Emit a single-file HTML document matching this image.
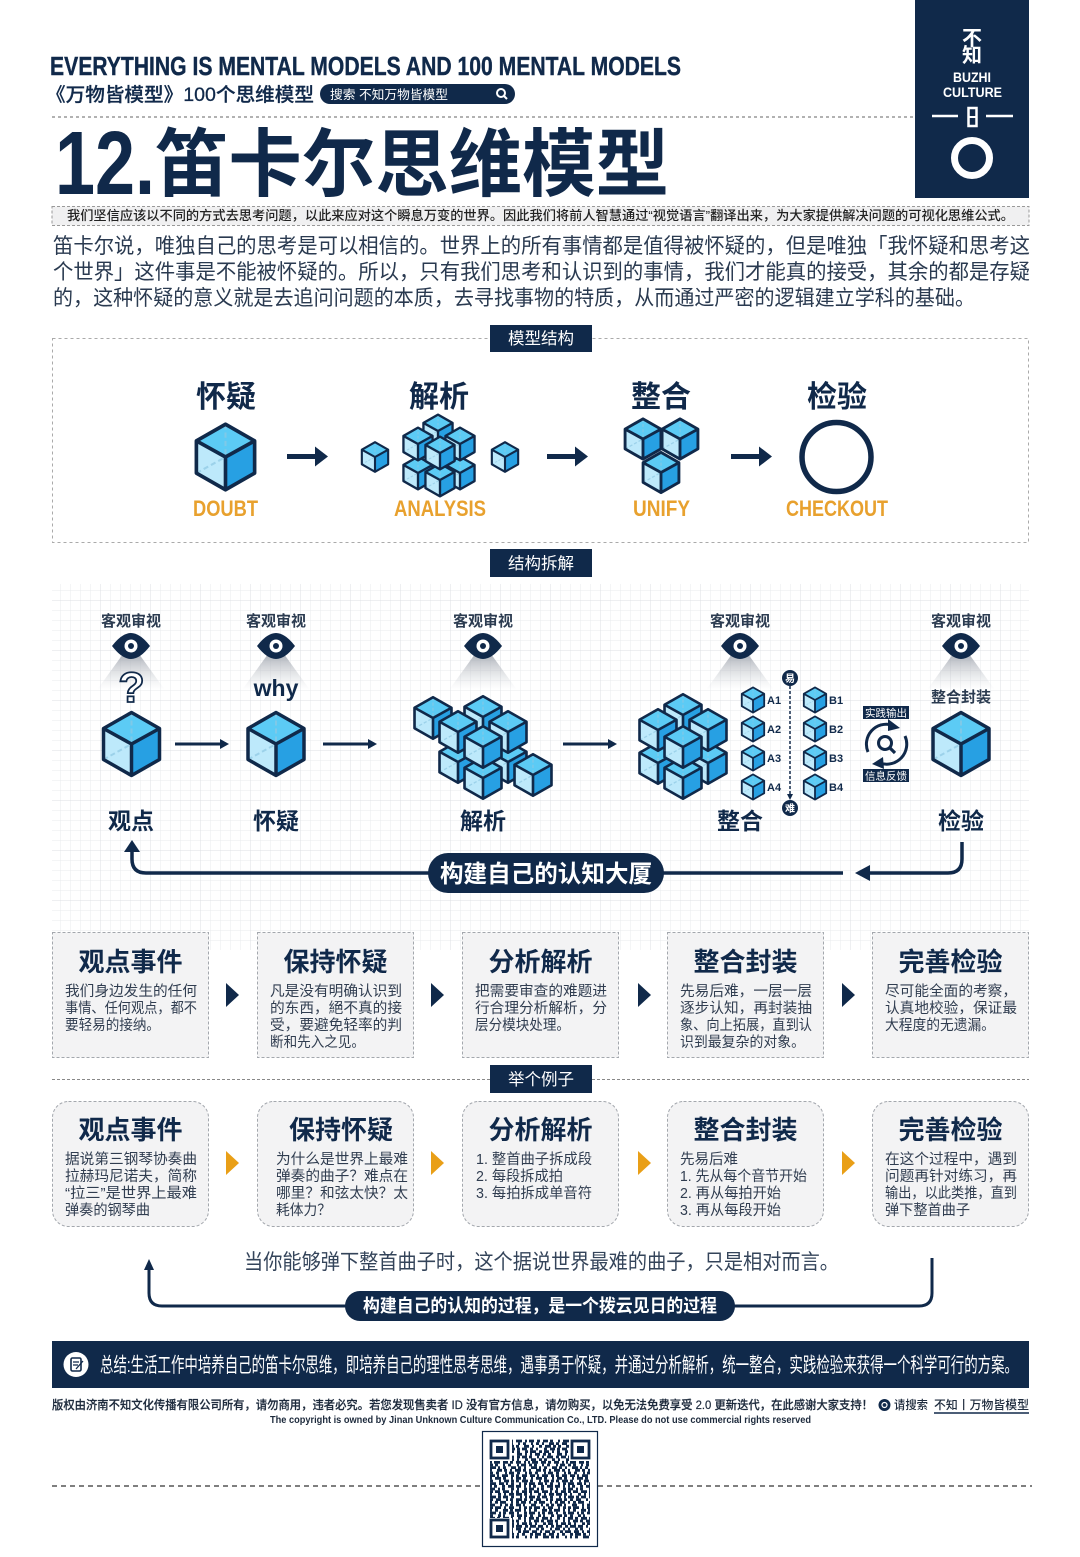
<!DOCTYPE html>
<html lang="zh"><head><meta charset="utf-8"><title>笛卡尔思维模型</title>
<style>
html,body{margin:0;padding:0;background:#fff;width:1080px;height:1557px;overflow:hidden}
svg{display:block}
text{font-family:"Liberation Sans","Noto Sans CJK SC",sans-serif;fill:#10294a}
.w{fill:#fff}.b{font-weight:700}.m{text-anchor:middle}
.body{font-size:14.5px;fill:#303d50}
.ct{font-size:26px;font-weight:700;text-anchor:middle}
.o{fill:#e8a12e;font-weight:700;font-size:22px;text-anchor:middle}
.eyet{font-size:15px;font-weight:700;text-anchor:middle;fill:#2b3b50}
.lab{font-size:23px;font-weight:700;text-anchor:middle}
.sm{font-size:11px;font-weight:700}
</style></head><body>
<svg xmlns="http://www.w3.org/2000/svg" width="1080" height="1557" viewBox="0 0 1080 1557">
<defs>
<pattern id="g1" width="10" height="10" patternUnits="userSpaceOnUse"><path d="M10 0H0V10" fill="none" stroke="#e9ebee" stroke-width="1"/></pattern>
<pattern id="g2" width="50" height="50" patternUnits="userSpaceOnUse"><rect width="50" height="50" fill="url(#g1)"/><path d="M50 0H0V50" fill="none" stroke="#dcdfe3" stroke-width="1"/></pattern>
<linearGradient id="cone" x1="0" y1="0" x2="0" y2="1"><stop offset="0" stop-color="#a3a8b1" stop-opacity=".9"/><stop offset="1" stop-color="#d5d8dc" stop-opacity="0"/></linearGradient>
<g id="c">
<path d="M0 -31.500L28 -15.500L0 0L-28 -15.500Z" fill="#5ccbf5"/>
<path d="M-28 -15.500L0 0V31.500L-28 15.500Z" fill="#bde9fb"/>
<path d="M28 -15.500L0 0V31.500L28 15.500Z" fill="#27a0e3"/>
<path d="M0 -31.500V0M-28 15.500L0 0" fill="none" stroke="#8fc8e2" stroke-width="2" stroke-dasharray="5 3" opacity=".7"/>
<path d="M0 -31.500L28 -15.500V15.500L0 31.500L-28 15.500V-15.500ZM-28 -15.500L0 0L28 -15.500M0 0V31.500" fill="none" stroke="#10294a" stroke-linejoin="round"/>
</g>
<g id="eye">
<polygon points="-8,8 8,8 34,44 -34,44" fill="url(#cone)"/>
<path d="M-19 0Q-9 -13 0 -13Q9 -13 19 0Q9 13 0 13Q-9 13 -19 0Z" fill="#10294a"/>
<circle r="6.500" fill="#fff"/><circle r="3" fill="#10294a"/>
</g>
<g id="a1"><path d="M0 0H34" stroke="#10294a" stroke-width="5"/><path d="M28 -10L41 0L28 10Z" fill="#10294a"/></g>
<g id="a2"><path d="M0 0H46" stroke="#10294a" stroke-width="3"/><path d="M45 -5L54 0L45 5Z" fill="#10294a"/></g>
<path id="t" d="M0 -12L13 0L0 12Z"/>
</defs>
<rect width="1080" height="1557" fill="#fff"/>

<!-- brand block -->
<rect x="915" y="0" width="114" height="198" fill="#10294a"/>
<text class="w b m" x="972" y="45" font-size="20">不</text>
<text class="w b m" x="972" y="62" font-size="20">知</text>
<text class="w b m" x="972" y="82" font-size="13.500" textLength="38" lengthAdjust="spacingAndGlyphs">BUZHI</text>
<text class="w b m" x="972.500" y="97" font-size="13.500" textLength="59" lengthAdjust="spacingAndGlyphs">CULTURE</text>
<path d="M932 116H958M986 116H1013" stroke="#fff" stroke-width="2.500"/>
<rect x="968.500" y="108" width="8" height="18" fill="none" stroke="#fff" stroke-width="2.500"/>
<path d="M968 117H977" stroke="#fff" stroke-width="2"/>
<circle cx="972" cy="158" r="17.500" fill="none" stroke="#fff" stroke-width="7"/>

<!-- header -->
<text class="b" x="50" y="75" font-size="26" textLength="631" lengthAdjust="spacingAndGlyphs" style="stroke:#10294a;stroke-width:.4">EVERYTHING IS MENTAL MODELS AND 100 MENTAL MODELS</text>
<text x="46" y="101" font-size="19" font-weight="500" textLength="268" lengthAdjust="spacingAndGlyphs" style="stroke:#10294a;stroke-width:.25">《万物皆模型》100个思维模型</text>
<rect x="320" y="84" width="195" height="20" rx="10" fill="#10294a"/>
<text class="w" x="330" y="99" font-size="12.500" textLength="118" lengthAdjust="spacingAndGlyphs">搜索 不知万物皆模型</text>
<circle cx="501" cy="93" r="4" fill="none" stroke="#fff" stroke-width="2"/><path d="M504 96L507 99" stroke="#fff" stroke-width="2"/>
<path d="M52 117H915" stroke="#666" stroke-width="1" stroke-dasharray="3 3"/>
<text class="b" x="55" y="194" font-size="90" textLength="100" lengthAdjust="spacingAndGlyphs">12.</text>
<text class="b" x="155" y="190" font-size="74" textLength="514" lengthAdjust="spacingAndGlyphs">笛卡尔思维模型</text>

<rect x="52" y="206.500" width="977" height="19" fill="#f0f0f1" stroke="#999" stroke-dasharray="3 2"/>
<text x="67" y="220" font-size="13" font-weight="500" fill="#222" textLength="947" lengthAdjust="spacingAndGlyphs" style="fill:#222">我们坚信应该以不同的方式去思考问题，以此来应对这个瞬息万变的世界。因此我们将前人智慧通过“视觉语言”翻译出来，为大家提供解决问题的可视化思维公式。</text>
<g font-size="21">
<text x="53" y="253" textLength="977" lengthAdjust="spacingAndGlyphs" style="fill:#2a3a50">笛卡尔说，唯独自己的思考是可以相信的。世界上的所有事情都是值得被怀疑的，但是唯独「我怀疑和思考这</text>
<text x="53" y="279" textLength="977" lengthAdjust="spacingAndGlyphs" style="fill:#2a3a50">个世界」这件事是不能被怀疑的。所以，只有我们思考和认识到的事情，我们才能真的接受，其余的都是存疑</text>
<text x="53" y="305" textLength="922" lengthAdjust="spacingAndGlyphs" style="fill:#2a3a50">的，这种怀疑的意义就是去追问问题的本质，去寻找事物的特质，从而通过严密的逻辑建立学科的基础。</text>
</g>

<!-- model structure -->
<rect x="52.500" y="338.500" width="976" height="204" fill="#fff" stroke="#aaa" stroke-dasharray="3 3"/>
<rect x="490" y="325" width="102" height="27" fill="#10294a"/>
<text class="w m" x="541" y="344" font-size="16.500">模型结构</text>
<g font-size="30">
<text class="m b" x="226" y="407">怀疑</text><text class="m b" x="439" y="407">解析</text><text class="m b" x="661" y="407">整合</text><text class="m b" x="837" y="407">检验</text>
</g>
<use href="#c" stroke-width="3.500" transform="translate(225.500 457) scale(1.04)"/>
<g stroke-width="4.500">
<use href="#c" transform="translate(375 457) scale(.47)"/>
<use href="#c" transform="translate(505 457) scale(.47)"/>
<use href="#c" transform="translate(418 473) scale(.52)"/>
<use href="#c" transform="translate(460 473) scale(.52)"/>
<use href="#c" transform="translate(438 431) scale(.52)"/>
<use href="#c" transform="translate(418 444) scale(.52)"/>
<use href="#c" transform="translate(460 444) scale(.52)"/>
<use href="#c" transform="translate(440 480) scale(.52)"/>
<use href="#c" transform="translate(440 453) scale(.52)"/>
<use href="#c" transform="translate(643 439) scale(.64)"/>
<use href="#c" transform="translate(680 439) scale(.64)"/>
<use href="#c" transform="translate(661 472.500) scale(.64)"/>
</g>
<circle cx="836.500" cy="457" r="34.500" fill="none" stroke="#10294a" stroke-width="5.500"/>
<use href="#a1" transform="translate(287 456.500)"/>
<use href="#a1" transform="translate(547 456.500)"/>
<use href="#a1" transform="translate(731 456.500)"/>
<text class="o" x="225.500" y="516" textLength="65" lengthAdjust="spacingAndGlyphs">DOUBT</text>
<text class="o" x="440" y="516" textLength="92" lengthAdjust="spacingAndGlyphs">ANALYSIS</text>
<text class="o" x="661.500" y="516" textLength="57" lengthAdjust="spacingAndGlyphs">UNIFY</text>
<text class="o" x="837" y="516" textLength="102" lengthAdjust="spacingAndGlyphs">CHECKOUT</text>

<!-- breakdown -->
<rect x="490" y="549" width="102" height="28" fill="#10294a"/>
<text class="w m" x="541" y="569" font-size="16.500">结构拆解</text>
<rect x="52" y="584" width="977" height="366" fill="url(#g2)"/>

<text class="eyet" x="131" y="626">客观审视</text><text class="eyet" x="276" y="626">客观审视</text><text class="eyet" x="483" y="626">客观审视</text><text class="eyet" x="740" y="626">客观审视</text><text class="eyet" x="961" y="626">客观审视</text>
<use href="#eye" transform="translate(131 646)"/><use href="#eye" transform="translate(276 646)"/><use href="#eye" transform="translate(483 646)"/><use href="#eye" transform="translate(740 646)"/><use href="#eye" transform="translate(961 646)"/>
<text class="m b" x="131.500" y="702" font-size="43" style="fill:#fff;stroke:#10294a;stroke-width:1.800">?</text>
<text class="m b" x="276" y="696" font-size="23">why</text>
<text class="m b" x="961" y="702" font-size="15" style="fill:#2b3b50">整合封装</text>
<use href="#c" stroke-width="3.500" transform="translate(131.500 744)"/>
<use href="#c" stroke-width="3.500" transform="translate(276 744)"/>
<use href="#c" stroke-width="3.500" transform="translate(961 744)"/>
<use href="#a2" transform="translate(175 744)"/><use href="#a2" transform="translate(323 744)"/><use href="#a2" transform="translate(563 744)"/>

<g stroke-width="4">
<use href="#c" transform="translate(458 762) scale(.66)"/>
<use href="#c" transform="translate(508 762) scale(.66)"/>
<use href="#c" transform="translate(483 717) scale(.66)"/>
<use href="#c" transform="translate(433 718) scale(.66)"/>
<use href="#c" transform="translate(508 732) scale(.66)"/>
<use href="#c" transform="translate(458 732) scale(.66)"/>
<use href="#c" transform="translate(483 778) scale(.66)"/>
<use href="#c" transform="translate(483 747) scale(.66)"/>
<use href="#c" transform="translate(533 775) scale(.66)"/>

<use href="#c" transform="translate(658 763) scale(.66)"/>
<use href="#c" transform="translate(708 763) scale(.66)"/>
<use href="#c" transform="translate(683 715) scale(.66)"/>
<use href="#c" transform="translate(658 730) scale(.66)"/>
<use href="#c" transform="translate(708 730) scale(.66)"/>
<use href="#c" transform="translate(683 778) scale(.66)"/>
<use href="#c" transform="translate(683 747) scale(.66)"/>
</g>
<g stroke-width="4.500">
<use href="#c" transform="translate(753 700) scale(.4)"/><use href="#c" transform="translate(753 729) scale(.4)"/><use href="#c" transform="translate(753 758) scale(.4)"/><use href="#c" transform="translate(753 787) scale(.4)"/>
<use href="#c" transform="translate(815 700) scale(.4)"/><use href="#c" transform="translate(815 729) scale(.4)"/><use href="#c" transform="translate(815 758) scale(.4)"/><use href="#c" transform="translate(815 787) scale(.4)"/>
</g>
<text class="sm" x="767" y="704">A1</text><text class="sm" x="767" y="733">A2</text><text class="sm" x="767" y="762">A3</text><text class="sm" x="767" y="791">A4</text>
<text class="sm" x="829" y="704">B1</text><text class="sm" x="829" y="733">B2</text><text class="sm" x="829" y="762">B3</text><text class="sm" x="829" y="791">B4</text>
<path d="M790 686V795" stroke="#10294a" stroke-width="1.500" stroke-dasharray="3 2"/><path d="M787 794L790 800L793 794Z" fill="#10294a"/>
<circle cx="790" cy="678" r="8" fill="#10294a"/><circle cx="790" cy="808" r="8" fill="#10294a"/>
<text class="w m b" x="790" y="682" font-size="10">易</text><text class="w m b" x="790" y="812" font-size="10">难</text>

<rect x="863" y="706" width="46" height="13" fill="#10294a"/><rect x="863" y="769" width="46" height="13" fill="#10294a"/>
<text class="w m" x="886" y="716.500" font-size="10.500">实践输出</text><text class="w m" x="886" y="779.500" font-size="10.500">信息反馈</text>
<path d="M868 752A20 20 0 0 1 892 725" fill="none" stroke="#10294a" stroke-width="3"/>
<path d="M905 736A20 20 0 0 1 880 763" fill="none" stroke="#10294a" stroke-width="3"/>
<path d="M888 719L900 728L888 731Z" fill="#10294a"/><path d="M883 757L872 764L884 769Z" fill="#10294a"/>
<circle cx="885" cy="743" r="6.500" fill="none" stroke="#10294a" stroke-width="3"/><path d="M890 748L895 753" stroke="#10294a" stroke-width="3.200"/>

<text class="lab" x="131" y="829">观点</text><text class="lab" x="276" y="829">怀疑</text><text class="lab" x="483" y="829">解析</text><text class="lab" x="740" y="829">整合</text><text class="lab" x="961" y="829">检验</text>

<path d="M430 873H146Q132 873 132 859V848" fill="none" stroke="#10294a" stroke-width="3.500"/>
<path d="M124 852L132 840L140 852Z" fill="#10294a"/>
<path d="M660 873H843" fill="none" stroke="#10294a" stroke-width="3.500"/>
<path d="M870 865L855 873L870 881Z" fill="#10294a"/>
<path d="M868 873H948Q962 873 962 859V842" fill="none" stroke="#10294a" stroke-width="3.500"/>
<rect x="428" y="853" width="236" height="40" rx="20" fill="#10294a"/>
<text class="w b" x="440" y="882" font-size="24" textLength="212" lengthAdjust="spacingAndGlyphs">构建自己的认知大厦</text>

<!-- cards row 1 -->
<g fill="#f3f3f4" stroke="#a3a7ad" stroke-dasharray="3 2">
<rect x="52.500" y="932.500" width="156" height="125"/><rect x="257.500" y="932.500" width="156" height="125"/><rect x="462.500" y="932.500" width="156" height="125"/><rect x="667.500" y="932.500" width="156" height="125"/><rect x="872.500" y="932.500" width="156" height="125"/>
</g>
<text class="ct" x="130.500" y="971">观点事件</text><text class="ct" x="335.500" y="971">保持怀疑</text><text class="ct" x="540.500" y="971">分析解析</text><text class="ct" x="745.500" y="971">整合封装</text><text class="ct" x="950.500" y="971">完善检验</text>
<g fill="#10294a"><use href="#t" x="226" y="995"/><use href="#t" x="431" y="995"/><use href="#t" x="638" y="995"/><use href="#t" x="842" y="995"/></g>
<g>
<text class="body" x="65" y="996" textLength="132" lengthAdjust="spacingAndGlyphs">我们身边发生的任何</text>
<text class="body" x="65" y="1013" textLength="132" lengthAdjust="spacingAndGlyphs">事情、任何观点，都不</text>
<text class="body" x="65" y="1030" textLength="95" lengthAdjust="spacingAndGlyphs">要轻易的接纳。</text>
<text class="body" x="270" y="996" textLength="132" lengthAdjust="spacingAndGlyphs">凡是没有明确认识到</text>
<text class="body" x="270" y="1013" textLength="132" lengthAdjust="spacingAndGlyphs">的东西，絕不真的接</text>
<text class="body" x="270" y="1030" textLength="132" lengthAdjust="spacingAndGlyphs">受，要避免轻率的判</text>
<text class="body" x="270" y="1047" textLength="95" lengthAdjust="spacingAndGlyphs">断和先入之见。</text>
<text class="body" x="475" y="996" textLength="132" lengthAdjust="spacingAndGlyphs">把需要审查的难题进</text>
<text class="body" x="475" y="1013" textLength="132" lengthAdjust="spacingAndGlyphs">行合理分析解析，分</text>
<text class="body" x="475" y="1030" textLength="95" lengthAdjust="spacingAndGlyphs">层分模块处理。</text>
<text class="body" x="680" y="996" textLength="132" lengthAdjust="spacingAndGlyphs">先易后难，一层一层</text>
<text class="body" x="680" y="1013" textLength="132" lengthAdjust="spacingAndGlyphs">逐步认知，再封装抽</text>
<text class="body" x="680" y="1030" textLength="132" lengthAdjust="spacingAndGlyphs">象、向上拓展，直到认</text>
<text class="body" x="680" y="1047" textLength="125" lengthAdjust="spacingAndGlyphs">识到最复杂的对象。</text>
<text class="body" x="885" y="996" textLength="132" lengthAdjust="spacingAndGlyphs">尽可能全面的考察，</text>
<text class="body" x="885" y="1013" textLength="132" lengthAdjust="spacingAndGlyphs">认真地校验，保证最</text>
<text class="body" x="885" y="1030" textLength="110" lengthAdjust="spacingAndGlyphs">大程度的无遗漏。</text>
</g>

<!-- example -->
<path d="M52 1079.500H1029" stroke="#888" stroke-dasharray="3 2"/>
<rect x="490" y="1065" width="102" height="28" fill="#10294a"/>
<text class="w m" x="541" y="1085" font-size="16.500">举个例子</text>
<g fill="#f3f3f4" stroke="#a3a7ad" stroke-dasharray="3 2">
<rect x="52.500" y="1101.500" width="156" height="125" rx="16"/><rect x="257.500" y="1101.500" width="156" height="125" rx="16"/><rect x="462.500" y="1101.500" width="156" height="125" rx="16"/><rect x="667.500" y="1101.500" width="156" height="125" rx="16"/><rect x="872.500" y="1101.500" width="156" height="125" rx="16"/>
</g>
<text class="ct" x="130.500" y="1139">观点事件</text><text class="ct" x="341" y="1139">保持怀疑</text><text class="ct" x="540.500" y="1139">分析解析</text><text class="ct" x="745.500" y="1139">整合封装</text><text class="ct" x="950.500" y="1139">完善检验</text>
<g fill="#e99f17"><use href="#t" x="226" y="1163"/><use href="#t" x="431" y="1163"/><use href="#t" x="638" y="1163"/><use href="#t" x="842" y="1163"/></g>
<g>
<text class="body" x="65" y="1164" textLength="132" lengthAdjust="spacingAndGlyphs">据说第三钢琴协奏曲</text>
<text class="body" x="65" y="1181" textLength="132" lengthAdjust="spacingAndGlyphs">拉赫玛尼诺夫，简称</text>
<text class="body" x="65" y="1198" textLength="132" lengthAdjust="spacingAndGlyphs">“拉三”是世界上最难</text>
<text class="body" x="65" y="1215" textLength="85" lengthAdjust="spacingAndGlyphs">弹奏的钢琴曲</text>
<text class="body" x="276" y="1164" textLength="132" lengthAdjust="spacingAndGlyphs">为什么是世界上最难</text>
<text class="body" x="276" y="1181" textLength="132" lengthAdjust="spacingAndGlyphs">弹奏的曲子？难点在</text>
<text class="body" x="276" y="1198" textLength="132" lengthAdjust="spacingAndGlyphs">哪里？和弦太快？太</text>
<text class="body" x="276" y="1215" textLength="55" lengthAdjust="spacingAndGlyphs">耗体力？</text>
<text class="body" x="476" y="1164" textLength="116" lengthAdjust="spacingAndGlyphs">1. 整首曲子拆成段</text>
<text class="body" x="476" y="1181" textLength="87" lengthAdjust="spacingAndGlyphs">2. 每段拆成拍</text>
<text class="body" x="476" y="1198" textLength="116" lengthAdjust="spacingAndGlyphs">3. 每拍拆成单音符</text>
<text class="body" x="680" y="1164" textLength="58" lengthAdjust="spacingAndGlyphs">先易后难</text>
<text class="body" x="680" y="1181" textLength="127" lengthAdjust="spacingAndGlyphs">1. 先从每个音节开始</text>
<text class="body" x="680" y="1198" textLength="101" lengthAdjust="spacingAndGlyphs">2. 再从每拍开始</text>
<text class="body" x="680" y="1215" textLength="101" lengthAdjust="spacingAndGlyphs">3. 再从每段开始</text>
<text class="body" x="885" y="1164" textLength="132" lengthAdjust="spacingAndGlyphs">在这个过程中，遇到</text>
<text class="body" x="885" y="1181" textLength="132" lengthAdjust="spacingAndGlyphs">问题再针对练习，再</text>
<text class="body" x="885" y="1198" textLength="132" lengthAdjust="spacingAndGlyphs">输出，以此类推，直到</text>
<text class="body" x="885" y="1215" textLength="85" lengthAdjust="spacingAndGlyphs">弹下整首曲子</text>
</g>

<text x="244" y="1269" font-size="21" style="fill:#34445a" textLength="595" lengthAdjust="spacingAndGlyphs">当你能够弹下整首曲子时，这个据说世界最难的曲子，只是相对而言。</text>
<path d="M149 1268V1293Q149 1306 162 1306H350M730 1306H919Q932 1306 932 1293V1258" fill="none" stroke="#10294a" stroke-width="3"/>
<path d="M144 1270L149 1259L154 1270Z" fill="#10294a"/>
<rect x="345" y="1291" width="390" height="30" rx="15" fill="#10294a"/>
<text class="w b" x="363" y="1312" font-size="18" textLength="354" lengthAdjust="spacingAndGlyphs">构建自己的认知的过程，是一个拨云见日的过程</text>

<rect x="52" y="1341" width="977" height="47" fill="#10294a"/>
<circle cx="76" cy="1364.500" r="12.500" fill="#fff"/>
<rect x="71" y="1358" width="10" height="13" rx="1.500" fill="none" stroke="#10294a" stroke-width="1.600"/><path d="M73 1362H79M73 1365H78M76 1369L83 1361" stroke="#10294a" stroke-width="1.300"/>
<text class="w" x="100" y="1372" font-size="20.500" textLength="918" lengthAdjust="spacingAndGlyphs">总结:生活工作中培养自己的笛卡尔思维，即培养自己的理性思考思维，遇事勇于怀疑，并通过分析解析，统一整合，实践检验来获得一个科学可行的方案。</text>

<text x="52" y="1409" font-size="12" font-weight="500" style="fill:#1d2a3c;stroke:#1d2a3c;stroke-width:.2" textLength="821" lengthAdjust="spacingAndGlyphs">版权由济南不知文化传播有限公司所有，请勿商用，违者必究。若您发现售卖者 ID 没有官方信息，请勿购买，以免无法免费享受 2.0 更新迭代，在此感谢大家支持！</text>
<circle cx="884.500" cy="1405" r="6" fill="#10294a"/><circle cx="884.500" cy="1405" r="2.500" fill="none" stroke="#fff" stroke-width="1.200"/>
<text x="894" y="1409" font-size="12" font-weight="500" style="fill:#1d2a3c" textLength="34" lengthAdjust="spacingAndGlyphs">请搜索</text>
<text x="934" y="1409" font-size="12" font-weight="500" style="fill:#1d2a3c" textLength="95" lengthAdjust="spacingAndGlyphs">不知丨万物皆模型</text>
<path d="M934 1413H1029" stroke="#10294a" stroke-width="1.500"/>
<text class="b" x="270" y="1423" font-size="10" style="fill:#1d2a3c" textLength="541" lengthAdjust="spacingAndGlyphs">The copyright is owned by Jinan Unknown Culture Communication Co., LTD. Please do not use commercial rights reserved</text>

<!-- QR -->
<path d="M52 1486H482M598 1486H1032" stroke="#333" stroke-width="1.200" stroke-dasharray="5 4"/>
<rect x="482.500" y="1431.500" width="115" height="115" fill="#fff" stroke="#10294a" stroke-width="1.200"/>
<g stroke="#10294a" stroke-width="2.800" fill="none">
<path d="M490 1441H590" stroke-dasharray="3 3 5 2 3 5 2 3 6 3 2 2 5 3"/>
<path d="M490 1443.600H590" stroke-dasharray="5 2 3 3 3 2 5 5 2 3 3"/>
<path d="M490 1446.300H590" stroke-dasharray="2 5 3 3 6 2 3 2 3 5 5 3"/>
<path d="M490 1449H590" stroke-dasharray="3 3 2 6 3 3 5 2 3 2 5 3"/>
<path d="M490 1451.600H590" stroke-dasharray="6 3 3 2 5 3 2 3 3 5 3 2"/>
<path d="M490 1454.300H590" stroke-dasharray="2 3 5 3 3 2 3 6 5 3 2 3"/>
<path d="M490 1457H590" stroke-dasharray="3 5 2 3 2 3 6 3 3 2 5 2"/>
<path d="M490 1459.600H590" stroke-dasharray="5 3 3 2 3 5 3 3 2 6 3 3"/>
<path d="M490 1462.300H590" stroke-dasharray="2 2 6 3 5 2 3 3 5 3 2 2"/>
<path d="M490 1465H590" stroke-dasharray="3 2 3 5 2 3 3 6 2 2 5 3"/>
<path d="M490 1467.600H590" stroke-dasharray="6 2 2 3 3 5 5 2 3 3 2 5"/>
<path d="M490 1470.300H590" stroke-dasharray="2 5 5 2 3 3 2 3 6 2 3 3"/>
<path d="M490 1473H590" stroke-dasharray="3 3 3 6 2 2 5 3 3 5 2 2"/>
<path d="M490 1475.600H590" stroke-dasharray="5 2 2 3 6 3 3 2 3 3 5 3"/>
<path d="M490 1478.300H590" stroke-dasharray="2 3 6 2 3 5 2 3 5 2 3 5"/>
<path d="M490 1481H590" stroke-dasharray="3 6 2 3 5 2 3 2 3 3 6 2"/>
<path d="M490 1483.600H590" stroke-dasharray="6 3 5 2 2 3 3 5 2 3 3 2"/>
<path d="M490 1486.300H590" stroke-dasharray="2 2 3 5 3 3 6 2 5 3 2 3"/>
<path d="M490 1489H590" stroke-dasharray="5 3 2 2 3 6 3 3 2 5 3 2"/>
<path d="M490 1491.600H590" stroke-dasharray="3 2 5 3 6 2 2 3 3 3 5 2"/>
<path d="M490 1494.300H590" stroke-dasharray="2 6 3 3 2 3 5 2 6 2 3 3"/>
<path d="M490 1497H590" stroke-dasharray="6 2 3 2 5 3 3 6 2 3 2 2"/>
<path d="M490 1499.600H590" stroke-dasharray="3 3 5 5 2 2 3 3 6 2 3 3"/>
<path d="M490 1502.300H590" stroke-dasharray="2 3 3 2 6 5 2 3 3 2 5 3"/>
<path d="M490 1505H590" stroke-dasharray="5 5 2 3 3 2 3 3 5 2 2 6"/>
<path d="M490 1507.600H590" stroke-dasharray="3 2 6 3 2 3 5 5 2 3 3 2"/>
<path d="M490 1510.300H590" stroke-dasharray="2 3 3 5 5 2 3 2 6 3 2 3"/>
<path d="M490 1513H590" stroke-dasharray="6 3 2 2 3 3 5 3 2 5 3 2"/>
<path d="M490 1515.600H590" stroke-dasharray="3 5 3 2 2 6 3 3 5 2 3 3"/>
<path d="M490 1518.300H590" stroke-dasharray="5 2 3 3 6 2 2 5 3 3 2 3"/>
<path d="M490 1521H590" stroke-dasharray="2 3 5 2 3 3 6 2 3 5 2 3"/>
<path d="M490 1523.600H590" stroke-dasharray="3 3 2 6 3 2 5 3 2 3 5 2"/>
<path d="M490 1526.300H590" stroke-dasharray="6 2 5 3 2 3 3 2 6 3 3 2"/>
<path d="M490 1529H590" stroke-dasharray="2 5 3 2 3 6 2 3 5 3 2 3"/>
<path d="M490 1531.600H590" stroke-dasharray="5 3 2 3 5 2 3 5 3 2 6 3"/>
<path d="M490 1534.300H590" stroke-dasharray="3 2 6 2 3 3 5 3 2 3 3 5"/>
<path d="M490 1537H590" stroke-dasharray="2 3 3 5 6 2 3 2 3 6 2 3"/>
</g>
<g fill="#fff"><rect x="489" y="1439" width="23" height="22"/><rect x="569" y="1439" width="22" height="22"/><rect x="489" y="1518" width="23" height="22"/></g>
<g fill="none" stroke="#10294a" stroke-width="2.800">
<rect x="491" y="1441" width="17" height="17"/><rect x="572" y="1441" width="17" height="17"/><rect x="491" y="1520" width="17" height="17"/>
</g>
<g fill="#10294a"><rect x="496" y="1446" width="7" height="7"/><rect x="577" y="1446" width="7" height="7"/><rect x="496" y="1525" width="7" height="7"/></g>
</svg>
</body></html>
